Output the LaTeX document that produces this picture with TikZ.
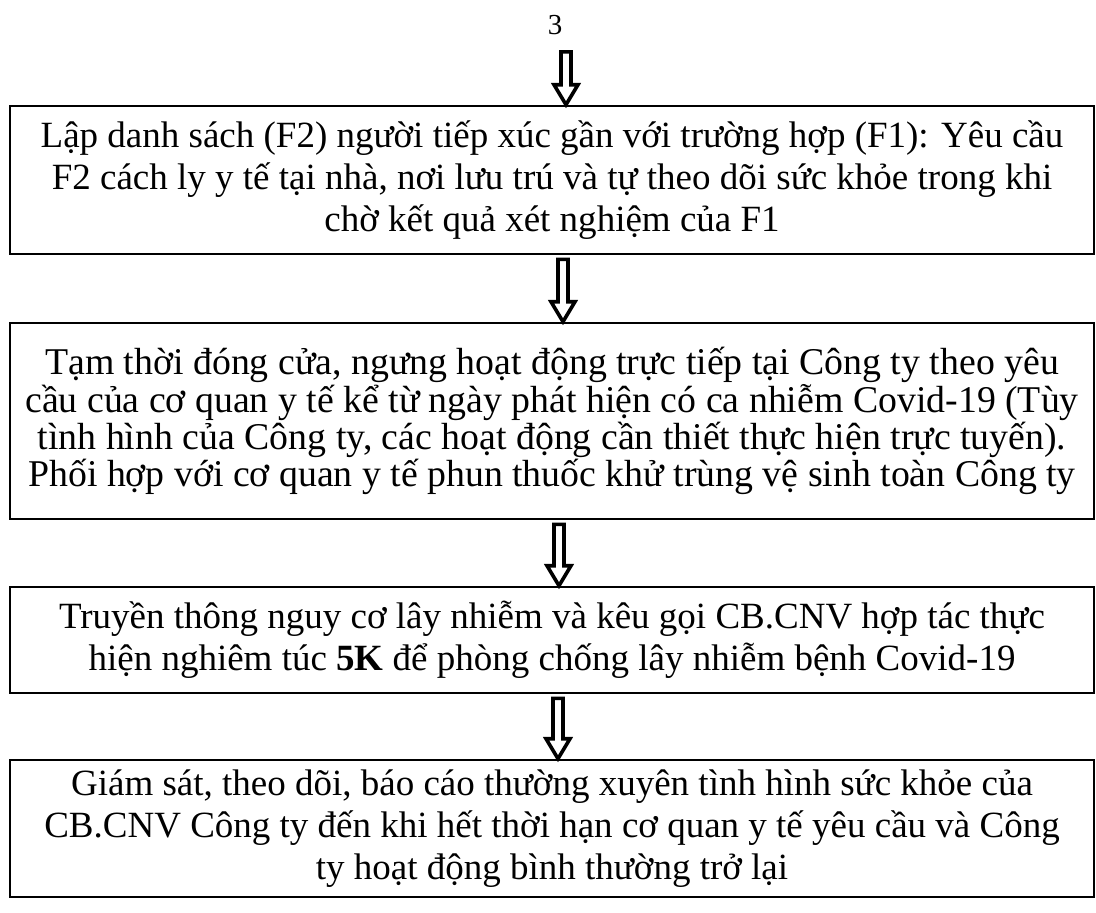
\documentclass[tikz,border=0pt]{standalone}
\usepackage{fontspec}
\setmainfont{Liberation Serif}
\usetikzlibrary{calc}

\tikzset{
  stepbox/.style={draw,line width=1.3pt,align=flush center,text width=538pt,
    minimum width=542pt,inner sep=0pt,font=\fontsize{18.5}{20.8}\selectfont},
  hollow/.style={line width=1.8pt,line join=miter,to path={
    let \p1=(\tikztostart), \p2=(\tikztotarget) in
    (\x1-2.5pt,\y1) -- (\x1-2.5pt,\y2+10pt) -- (\x1-6pt,\y2+10pt) -- (\x1,\y2)
    -- (\x1+6pt,\y2+10pt) -- (\x1+2.5pt,\y2+10pt) -- (\x1+2.5pt,\y1) -- cycle}}
}

\begin{document}
\begin{tikzpicture}[x=0.5pt,y=-0.5pt]
  \useasboundingbox (0,0) rectangle (1096,912);

  \node[font=\fontsize{14.5}{17}\selectfont] (pg) at (555,25) {3};

  \node[stepbox,minimum height=74pt] (b1) at (552,180)
    {Lập danh sách (F2) người tiếp xúc gần với trường hợp (F1): Yêu cầu\\
     F2 cách ly y tế tại nhà, nơi lưu trú và tự theo dõi sức khỏe trong khi\\
     chờ kết quả xét nghiệm của F1};

  \node[stepbox,minimum height=98pt,font=\fontsize{18.9}{18.6}\selectfont] (b2) at (552,421)
    {Tạm thời đóng cửa, ngưng hoạt động trực tiếp tại Công ty theo yêu\\
     cầu của cơ quan y tế kể từ ngày phát hiện có ca nhiễm Covid-19 (Tùy\\
     tình hình của Công ty, các hoạt động cần thiết thực hiện trực tuyến).\\
     Phối hợp với cơ quan y tế phun thuốc khử trùng vệ sinh toàn Công ty\par
     \vspace*{13pt}};

  \node[stepbox,minimum height=53pt] (b3) at (552,640)
    {Truyền thông nguy cơ lây nhiễm và kêu gọi CB.CNV hợp tác thực\\
     hiện nghiêm túc \textbf{5K} để phòng chống lây nhiễm bệnh Covid-19};

  \node[stepbox,minimum height=68.5pt] (b4) at (552,828.5)
    {Giám sát, theo dõi, báo cáo thường xuyên tình hình sức khỏe của\\
     CB.CNV Công ty đến khi hết thời hạn cơ quan y tế yêu cầu và Công\\
     ty hoạt động bình thường trở lại};

  % connectors
  \draw[hollow] ([xshift=5.5pt,yshift=-5pt]pg.south) to ([xshift=5.5pt]b1.north);
  \draw[hollow] ([xshift=5.5pt,yshift=-2pt]b1.south) to ([xshift=5.5pt]b2.north);
  \draw[hollow] ([xshift=3.5pt,yshift=-2pt]b2.south) to ([xshift=3.5pt]b3.north);
  \draw[hollow] ([xshift=3pt,yshift=-2pt]b3.south) to ([xshift=3pt]b4.north);
\end{tikzpicture}
\end{document}
